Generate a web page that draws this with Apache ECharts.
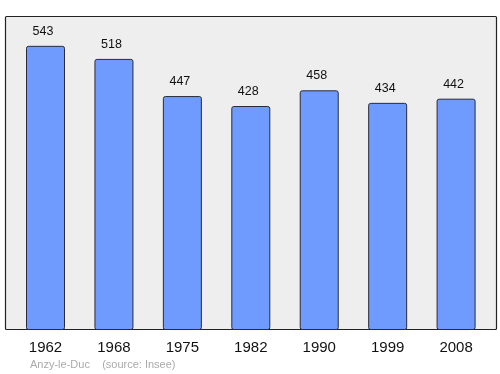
<!DOCTYPE html>
<html>
<head>
<meta charset="utf-8">
<script src="https://cdn.jsdelivr.net/npm/echarts@6/dist/echarts.min.js"></script>
<style>html,body{margin:0;padding:0;background:#fff}#c{width:500px;height:374px}</style>
</head>
<body>
<div id="c"></div>
<script>
var years = ['1962','1968','1975','1982','1990','1999','2008'];
var population = [543, 518, 447, 428, 458, 434, 442];
var footerText = 'Anzy-le-Duc    (source: Insee)';

var chart = echarts.init(document.getElementById('c'), null, {renderer: 'canvas'});
chart.setOption({
  animation: false,
  graphic: [
    {type: 'rect', shape: {x: 5.5, y: 16.5, width: 491, height: 313, r: 1},
     style: {fill: '#eeeeee', stroke: '#222', lineWidth: 1.2}, z: -10},
    {type: 'text', left: 30, top: 359,
     style: {text: footerText, fill: '#aaaaaa', font: '11px "Liberation Sans", Arial, sans-serif'}}
  ],
  grid: {left: 11.3, right: 9.7, top: 16, bottom: 44},
  xAxis: {
    type: 'category', data: years,
    axisLine: {show: false}, axisTick: {show: false},
    axisLabel: {color: '#111', fontSize: 15, margin: 10, fontFamily: '"Liberation Sans", Arial, sans-serif'}
  },
  yAxis: {type: 'value', min: 0, max: 600, show: false, splitLine: {show: false}},
  series: [{
    type: 'bar', data: population, barWidth: 39,
    itemStyle: {color: '#6f9bff', borderColor: '#2a2a3a', borderWidth: 1, borderRadius: 2},
    label: {show: true, position: 'top', distance: 8, offset: [-2.5, 0], color: '#111', fontSize: 12.5,
            fontFamily: '"Liberation Sans", Arial, sans-serif'}
  }]
});
</script>
</body>
</html>
